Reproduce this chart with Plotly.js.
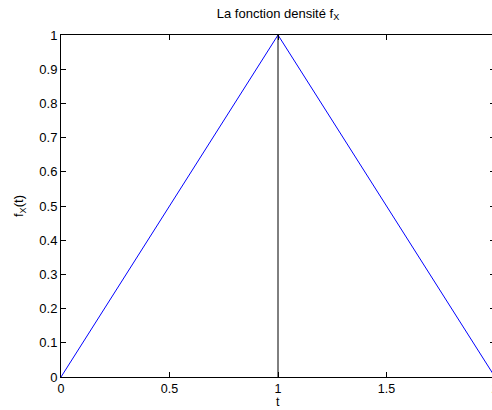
<!DOCTYPE html>
<html>
<head>
<meta charset="utf-8">
<script src="https://cdn.plot.ly/plotly-3.0.1.min.js"></script>
<style>
html,body{margin:0;padding:0;overflow:hidden;background:#fff;width:492px;height:410px;}
#chart{width:500px;height:410px;}
</style>
</head>
<body>
<div id="chart"></div>
<script>
// Density f_X(t): triangular density
const tValues = [0, 1, 2];
const fValues = [0, 1, 0];
// Vertical marker at t = 1
const markerT = [1, 1];
const markerF = [0, 1];
const xTicks = [0, 0.5, 1, 1.5, 2];
const xTickLabels = ['0', '0.5', '1', '1.5', '2'];
const yTicks = [0, 0.1, 0.2, 0.3, 0.4, 0.5, 0.6, 0.7, 0.8, 0.9, 1];
const yTickLabels = ['0', '0.1', '0.2', '0.3', '0.4', '0.5', '0.6', '0.7', '0.8', '0.9', '1'];

const font = {family: 'Liberation Sans, Arial, sans-serif', size: 13, color: '#000'};
const xFont = {family: 'Liberation Sans, Arial, sans-serif', size: 12.5, color: '#000'};

const traces = [
  {x: tValues, y: fValues, type: 'scatter', mode: 'lines', line: {color: '#0000ff', width: 1}, hoverinfo: 'skip'},
  {x: markerT, y: markerF, type: 'scatter', mode: 'lines', line: {color: '#000000', width: 1}, hoverinfo: 'skip'}
];

const axisCommon = {
  showgrid: false, zeroline: false, showline: true, linecolor: '#000', linewidth: 1,
  mirror: 'ticks', ticks: 'inside', ticklen: 5, tickcolor: '#000', tickwidth: 1,
  tickfont: font
};

const layout = {
  width: 500, height: 410,
  margin: {l: 61, r: 5, t: 35, b: 33},
  paper_bgcolor: '#fff', plot_bgcolor: '#fff',
  showlegend: false,
  font: font,
  title: {text: 'La fonction densité f<sub>X</sub>', font: font, x: 0.5, xref: 'paper', xanchor: 'center', y: 0.968, yref: 'container', yanchor: 'middle'},
  xaxis: Object.assign({}, axisCommon, {
    range: [0, 2], tickvals: xTicks, ticktext: xTickLabels, tickfont: xFont
  }),
  yaxis: Object.assign({}, axisCommon, {
    range: [0, 1], tickvals: yTicks, ticktext: yTickLabels,
    title: {text: 'f<sub>X</sub>(t)', font: font, standoff: 12}
  }),
  annotations: [
    {text: 't', xref: 'paper', yref: 'paper', x: 0.5, y: 0, xanchor: 'center', yanchor: 'top', yshift: -17, borderpad: 0, showarrow: false, font: xFont}
  ]
};

Plotly.newPlot('chart', traces, layout, {staticPlot: true, displayModeBar: false});
</script>
</body>
</html>
